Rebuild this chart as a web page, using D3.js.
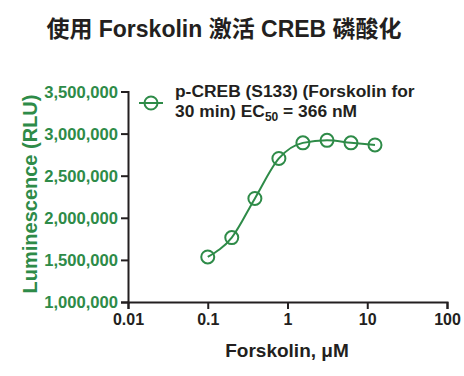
<!DOCTYPE html>
<html>
<head>
<meta charset="utf-8">
<script src="https://cdn.jsdelivr.net/npm/d3@7"></script>
<style>
  html, body { margin: 0; padding: 0; background: #fff; }
  svg { display: block; font-family: "Liberation Sans", Arial, "Noto Sans CJK SC", sans-serif; }
</style>
</head>
<body>
<div id="chart"></div>
<script>
// Forskolin dose (uM) and luminescence
const doses = [0.1, 0.2, 0.39, 0.78, 1.56, 3.13, 6.25, 12.5];
const signal = [1535000, 1765000, 2230000, 2705000, 2890000, 2920000, 2890000, 2865000];
const xTicks = [0.01, 0.1, 1, 10, 100];
const xTickLabels = ['0.01', '0.1', '1', '10', '100'];
const yTicks = [1000000, 1500000, 2000000, 2500000, 3000000, 3500000];

const green = '#2e8b48';
const width = 464, height = 376;

const svg = d3.select('#chart').append('svg')
    .attr('width', width)
    .attr('height', height);

// Title
svg.append('text')
    .attr('x', 224)
    .attr('y', 37)
    .attr('text-anchor', 'middle')
    .attr('font-size', '23px')
    .attr('font-weight', 'bold')
    .attr('fill', '#231f20')
    .text('使用 Forskolin 激活 CREB 磷酸化');

// Scales
const x = d3.scaleLog().domain([0.01, 100]).range([128, 447]);
const y = d3.scaleLinear().domain([1000000, 3500000]).range([302, 91.5]);

// Y axis
const yAxis = svg.append('g')
    .attr('transform', `translate(${x(0.01)},0)`)
    .call(d3.axisLeft(y).tickValues(yTicks).tickSize(7).tickPadding(3)
        .tickFormat(d3.format(',')));
yAxis.select('.domain').attr('stroke', '#231f20').attr('stroke-width', 2);
yAxis.selectAll('.tick line').attr('stroke', '#231f20').attr('stroke-width', 2);
yAxis.selectAll('.tick text')
    .attr('fill', green)
    .attr('font-size', '16.6px')
    .attr('font-weight', 'bold')
    .attr('dy', '0.36em');

// X axis
const xAxis = svg.append('g')
    .attr('transform', `translate(0,${y(1000000)})`)
    .call(d3.axisBottom(x).tickValues(xTicks).tickSize(7).tickPadding(5)
        .tickFormat((d, i) => xTickLabels[i]));
xAxis.select('.domain').attr('stroke', '#231f20').attr('stroke-width', 2);
xAxis.selectAll('.tick line').attr('stroke', '#231f20').attr('stroke-width', 2);
xAxis.selectAll('.tick text')
    .attr('fill', '#231f20')
    .attr('font-size', '16px')
    .attr('font-weight', 'bold');

// Axis titles
svg.append('text')
    .attr('x', 287)
    .attr('y', 357)
    .attr('text-anchor', 'middle')
    .attr('font-size', '19px')
    .attr('font-weight', 'bold')
    .attr('fill', '#231f20')
    .text('Forskolin, μM');

svg.append('text')
    .attr('transform', 'translate(37,194) rotate(-90)')
    .attr('text-anchor', 'middle')
    .attr('font-size', '20px')
    .attr('font-weight', 'bold')
    .attr('fill', green)
    .text('Luminescence (RLU)');

// Curve through the points
const pts = doses.map((d, i) => [d, signal[i]]);
const line = d3.line()
    .x(d => x(d[0]))
    .y(d => y(d[1]))
    .curve(d3.curveMonotoneX);

svg.append('path')
    .datum(pts)
    .attr('d', line)
    .attr('fill', 'none')
    .attr('stroke', green)
    .attr('stroke-width', 2);

svg.selectAll('.pt')
    .data(pts)
    .enter()
    .append('circle')
    .attr('class', 'pt')
    .attr('cx', d => x(d[0]))
    .attr('cy', d => y(d[1]))
    .attr('r', 6.5)
    .attr('fill', 'none')
    .attr('stroke', green)
    .attr('stroke-width', 2);

// Legend
const legend = svg.append('g').attr('transform', 'translate(139,103)');
legend.append('line')
    .attr('x1', 0).attr('x2', 24)
    .attr('stroke', green).attr('stroke-width', 2);
legend.append('circle')
    .attr('cx', 12).attr('r', 6.5)
    .attr('fill', 'none').attr('stroke', green).attr('stroke-width', 2);

const legText = svg.append('text')
    .attr('font-size', '17.4px')
    .attr('font-weight', 'bold')
    .attr('fill', '#231f20');
legText.append('tspan').attr('x', 175).attr('y', 97).text('p-CREB (S133) (Forskolin for');
legText.append('tspan').attr('x', 175).attr('y', 117).text('30 min) EC');
legText.append('tspan').attr('dy', 4).attr('font-size', '12px').text('50');
legText.append('tspan').attr('dy', -4).text(' = 366 nM');
</script>
</body>
</html>
